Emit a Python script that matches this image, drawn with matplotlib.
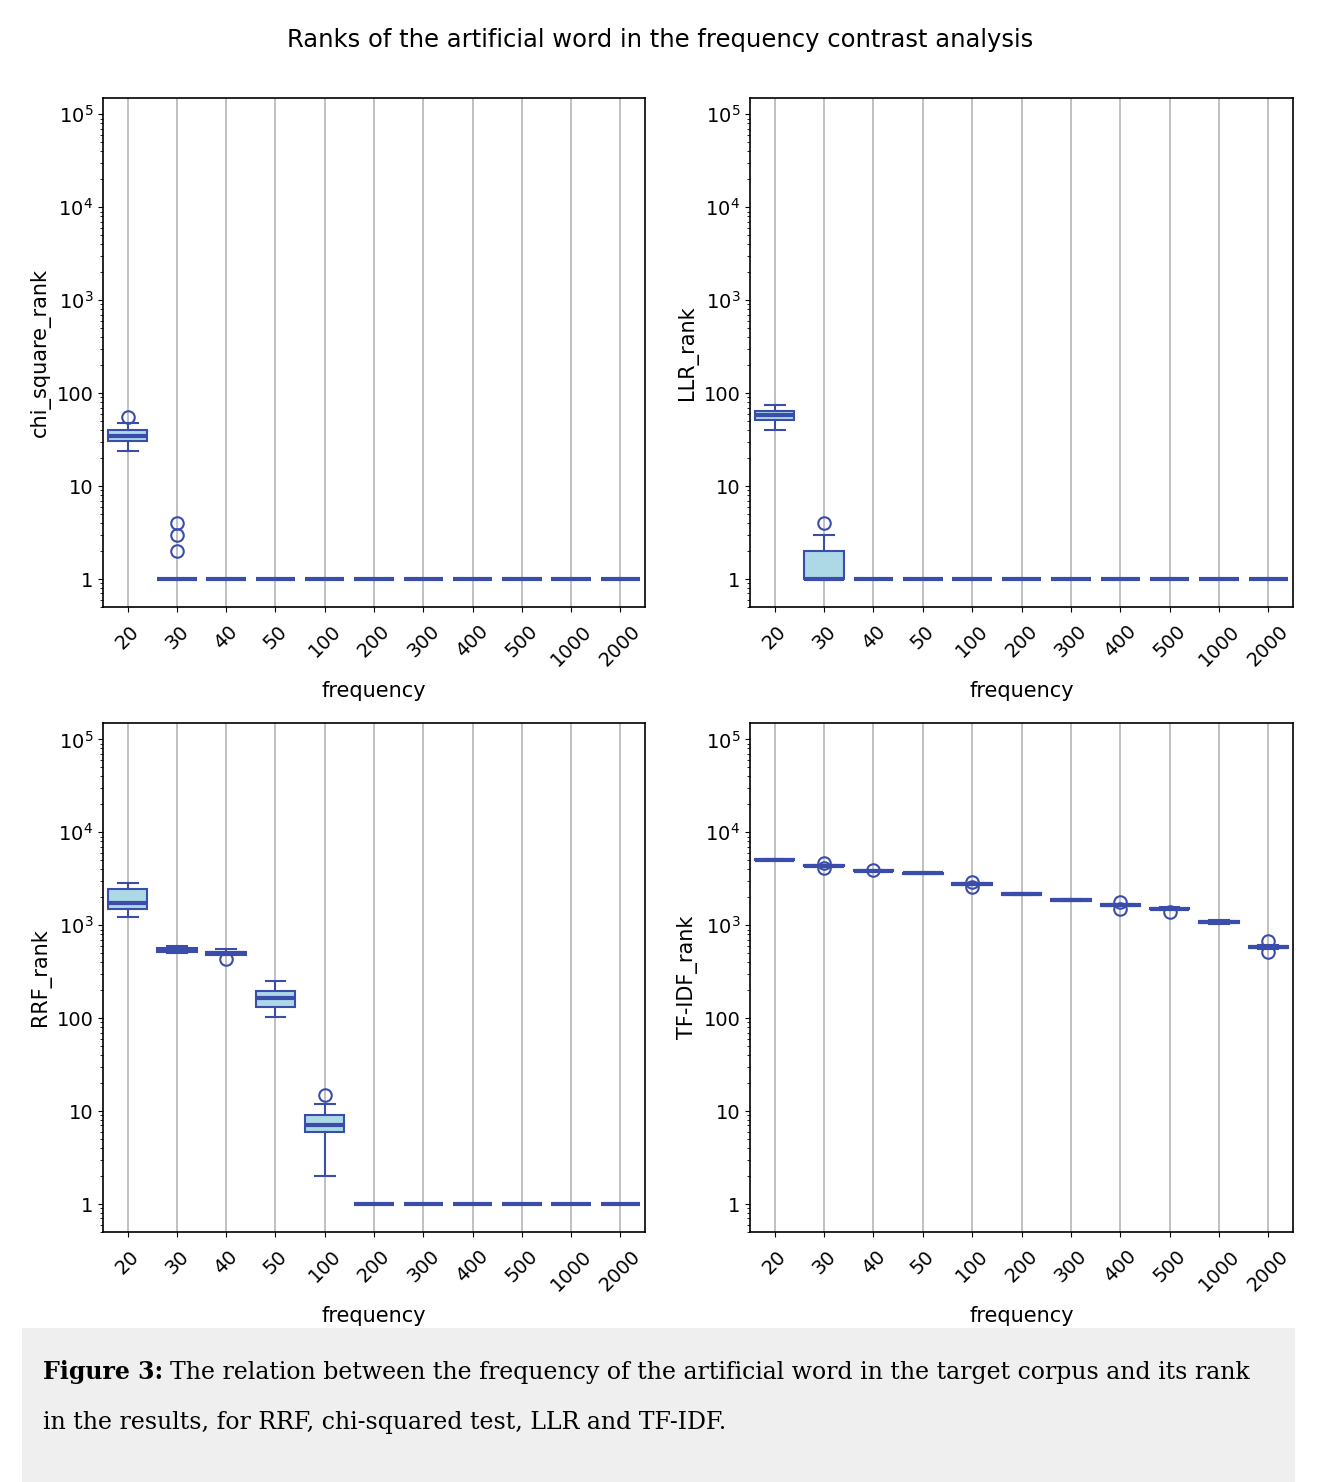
import matplotlib
matplotlib.use("Agg")
import matplotlib.pyplot as plt
from matplotlib.ticker import NullFormatter, LogLocator
from matplotlib.patches import Rectangle

# Категорії (частоти штучного слова)
frequencies = ["20", "30", "40", "50", "100", "200", "300", "400", "500", "1000", "2000"]

# chi-square: нижній вус, Q1, медіана, Q3, верхній вус, викиди
chi_lo = [24, 1, 1, 1, 1, 1, 1, 1, 1, 1, 1]
chi_q1 = [30.5, 1, 1, 1, 1, 1, 1, 1, 1, 1, 1]
chi_med = [34.7, 1, 1, 1, 1, 1, 1, 1, 1, 1, 1]
chi_q3 = [39.7, 1, 1, 1, 1, 1, 1, 1, 1, 1, 1]
chi_hi = [48, 1, 1, 1, 1, 1, 1, 1, 1, 1, 1]
chi_fliers = [[55], [2, 3, 4], [], [], [], [], [], [], [], [], []]

# LLR
llr_lo = [40, 1, 1, 1, 1, 1, 1, 1, 1, 1, 1]
llr_q1 = [52, 1, 1, 1, 1, 1, 1, 1, 1, 1, 1]
llr_med = [57.5, 1, 1, 1, 1, 1, 1, 1, 1, 1, 1]
llr_q3 = [63.5, 2, 1, 1, 1, 1, 1, 1, 1, 1, 1]
llr_hi = [75, 3, 1, 1, 1, 1, 1, 1, 1, 1, 1]
llr_fliers = [[], [4], [], [], [], [], [], [], [], [], []]

# RRF
rrf_lo = [1240, 500, 479, 104, 2, 1, 1, 1, 1, 1, 1]
rrf_q1 = [1490, 520, 479, 133, 6, 1, 1, 1, 1, 1, 1]
rrf_med = [1725, 542, 500, 163, 7, 1, 1, 1, 1, 1, 1]
rrf_q3 = [2450, 566, 516, 197, 9, 1, 1, 1, 1, 1, 1]
rrf_hi = [2870, 600, 552, 254, 12, 1, 1, 1, 1, 1, 1]
rrf_fliers = [[], [], [431], [], [15], [], [], [], [], [], []]

# TF-IDF
tfidf_lo = [5000, 4250, 3780, 3540, 2700, 2110, 1810, 1600, 1460, 1040, 560]
tfidf_q1 = [5050, 4320, 3820, 3580, 2730, 2140, 1840, 1620, 1480, 1060, 575]
tfidf_med = [5100, 4380, 3870, 3620, 2780, 2170, 1870, 1650, 1510, 1080, 590]
tfidf_q3 = [5150, 4430, 3920, 3660, 2830, 2200, 1900, 1680, 1540, 1110, 605]
tfidf_hi = [5200, 4480, 3960, 3700, 2870, 2230, 1930, 1710, 1560, 1130, 620]
tfidf_fliers = [[], [4650, 4100], [3950], [], [2950, 2600], [], [], [1790, 1480], [1390], [], [680, 520]]

BLUE = "#3b4dab"
FILL = "#add8e6"


def make_stats(lo, q1, med, q3, hi, fliers):
    return [
        {"whislo": lo[i], "q1": q1[i], "med": med[i], "q3": q3[i],
         "whishi": hi[i], "fliers": fliers[i]}
        for i in range(len(frequencies))
    ]


def draw_panel(ax, stats, ylabel):
    ax.bxp(stats, positions=range(1, len(frequencies) + 1), widths=0.8,
           patch_artist=True, showfliers=True,
           boxprops=dict(facecolor=FILL, edgecolor=BLUE, linewidth=1.5),
           medianprops=dict(color=BLUE, linewidth=3.0),
           whiskerprops=dict(color=BLUE, linewidth=1.5),
           capprops=dict(color=BLUE, linewidth=1.5),
           flierprops=dict(marker="o", markerfacecolor="none",
                           markeredgecolor=BLUE, markersize=9, markeredgewidth=1.5))
    ax.set_yscale("log")
    ax.set_ylim(0.5, 1.5e5)
    ax.set_xlim(0.5, len(frequencies) + 0.5)
    ax.set_yticks([1, 10, 100, 1e3, 1e4, 1e5])
    ax.set_yticklabels(["1", "10", "100", "$10^3$", "$10^4$", "$10^5$"])
    ax.yaxis.set_minor_locator(LogLocator(base=10, subs=range(2, 10), numticks=20))
    ax.yaxis.set_minor_formatter(NullFormatter())
    ax.set_xticks(range(1, len(frequencies) + 1))
    ax.set_xticklabels(frequencies, rotation=45)
    ax.tick_params(labelsize=14)
    ax.tick_params(axis="x", pad=7)
    ax.grid(axis="x", color="#bbbbbb", linewidth=1.3)
    ax.set_axisbelow(True)
    ax.set_xlabel("frequency", fontsize=15, labelpad=8)
    ax.set_ylabel(ylabel, fontsize=15)
    for sp in ax.spines.values():
        sp.set_linewidth(1.2)


fig = plt.figure(figsize=(13.24, 14.82), dpi=100)

ax_chi = fig.add_axes([0.0778, 0.5904, 0.4094, 0.3435])
ax_llr = fig.add_axes([0.5665, 0.5904, 0.4101, 0.3435])
ax_rrf = fig.add_axes([0.0778, 0.1687, 0.4094, 0.3434])
ax_tfidf = fig.add_axes([0.5665, 0.1687, 0.4101, 0.3434])

draw_panel(ax_chi, make_stats(chi_lo, chi_q1, chi_med, chi_q3, chi_hi, chi_fliers), "chi_square_rank")
draw_panel(ax_llr, make_stats(llr_lo, llr_q1, llr_med, llr_q3, llr_hi, llr_fliers), "LLR_rank")
draw_panel(ax_rrf, make_stats(rrf_lo, rrf_q1, rrf_med, rrf_q3, rrf_hi, rrf_fliers), "RRF_rank")
draw_panel(ax_tfidf, make_stats(tfidf_lo, tfidf_q1, tfidf_med, tfidf_q3, tfidf_hi, tfidf_fliers), "TF-IDF_rank")

fig.text(0.4985, 0.973, "Ranks of the artificial word in the frequency contrast analysis",
         ha="center", va="center", fontsize=17.5)

# Сірий блок підпису
fig.patches.append(Rectangle((22 / 1324, 0), (1295 - 22) / 1324, (1482 - 1328) / 1482,
                             transform=fig.transFigure, facecolor="#efefef",
                             edgecolor="none", zorder=0))

cap_font = "DejaVu Serif"
t1 = fig.text(43 / 1324, 1 - 1372 / 1482, "Figure 3:", fontweight="bold",
              fontsize=17, family=cap_font, va="center", ha="left")
renderer = fig.canvas.get_renderer()
bb = t1.get_window_extent(renderer)
x_after = (bb.x1 + 7) / fig.bbox.width
fig.text(x_after, 1 - 1372 / 1482,
         "The relation between the frequency of the artificial word in the target corpus and its rank",
         fontsize=17, family=cap_font, va="center", ha="left")
fig.text(43 / 1324, 1 - 1422 / 1482, "in the results, for RRF, chi-squared test, LLR and TF-IDF.",
         fontsize=17, family=cap_font, va="center", ha="left")

fig.savefig("out.png", dpi=100)
